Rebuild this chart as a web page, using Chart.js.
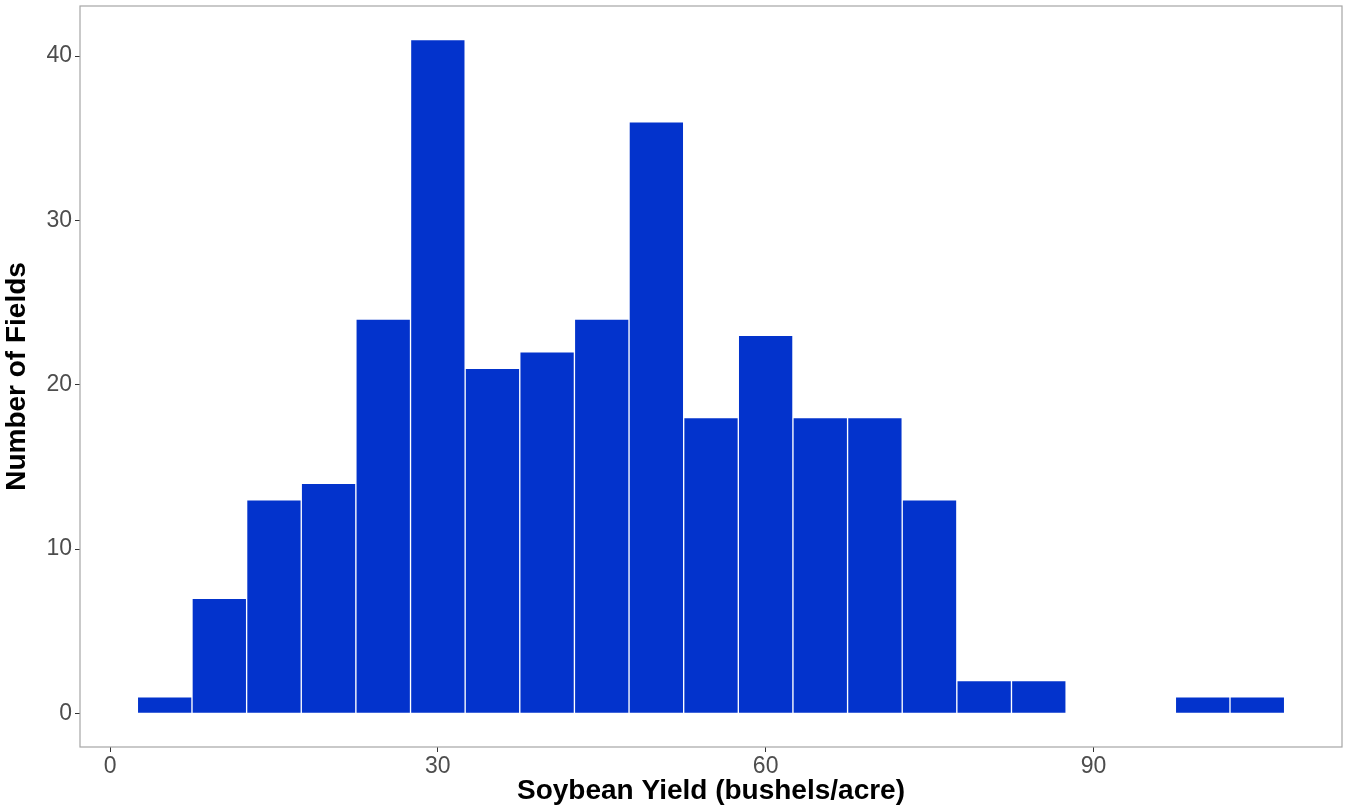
<!DOCTYPE html>
<html>
<head>
<meta charset="utf-8">
<script src="https://cdn.jsdelivr.net/npm/chart.js@4/dist/chart.umd.min.js"></script>
<style>
  html, body { margin: 0; padding: 0; background: #fff; }
  #wrap { width: 1345px; height: 808px; }
</style>
</head>
<body>
<div id="wrap"><canvas id="chart"></canvas></div>
<script>
// bin centres (bushels/acre), width 5
var binCenters = [5, 10, 15, 20, 25, 30, 35, 40, 45, 50, 55, 60, 65, 70, 75, 80, 85, 90, 95, 100, 105];
var fieldCounts = [1, 7, 13, 14, 24, 41, 21, 22, 24, 36, 18, 23, 18, 18, 13, 2, 2, 0, 0, 1, 1];
var xTicks = [0, 30, 60, 90];
var yTicks = [0, 10, 20, 30, 40];

var ctx = document.getElementById("chart");

var points = [];
for (var i = 0; i < binCenters.length; i++) {
	points.push({x: binCenters[i], y: fieldCounts[i]});
}

// panel border all round
var panelBorder = {
	id: 'panelBorder',
	afterDraw: function(chart) {
		var a = chart.chartArea;
		var c = chart.ctx;
		c.save();
		c.strokeStyle = '#a6a6a6';
		c.lineWidth = 1.2;
		c.strokeRect(a.left, a.top, a.right - a.left, a.bottom - a.top);
		c.restore();
	}
};

var tickFont = {family: "'Liberation Sans', Arial, sans-serif", size: 23};
var titleFont = {family: "'Liberation Sans', Arial, sans-serif", size: 28, weight: 'bold'};

var myChart = new Chart(ctx, {
	type: 'bar',
	data: {
		datasets: [{
			data: points,
			backgroundColor: '#0333CC',
			borderColor: '#ffffff',
			borderWidth: 1,
			barPercentage: 1,
			categoryPercentage: 1
		}]
	},
	options: {
		responsive: true,
		maintainAspectRatio: false,
		animation: false,
		layout: {padding: {top: 6, right: 3, left: 0, bottom: 0}},
		plugins: {legend: {display: false}, tooltip: {enabled: false}},
		scales: {
			x: {
				type: 'linear',
				min: -2.75,
				max: 112.75,
				offset: false,
				afterBuildTicks: function(scale) {
					scale.ticks = xTicks.map(function(v) { return {value: v}; });
				},
				afterFit: function(scale) {
					scale.height = 61;
					scale.paddingLeft = 0;
					scale.paddingRight = 0;
				},
				grid: {display: true, offset: false, drawOnChartArea: false, drawTicks: true, tickLength: 5, color: '#333333', lineWidth: 1},
				border: {display: false},
				ticks: {font: tickFont, color: '#4d4d4d', padding: 1, maxRotation: 0},
				title: {display: true, text: 'Soybean Yield (bushels/acre)', font: titleFont, color: '#000', padding: {top: 0, bottom: 0}}
			},
			y: {
				min: -2.05,
				max: 43.05,
				afterBuildTicks: function(scale) {
					scale.ticks = yTicks.map(function(v) { return {value: v}; });
				},
				afterFit: function(scale) {
					scale.width = 80;
					scale.paddingTop = 0;
					scale.paddingBottom = 0;
				},
				grid: {display: true, offset: false, drawOnChartArea: false, drawTicks: true, tickLength: 5, color: '#333333', lineWidth: 1},
				border: {display: false},
				ticks: {font: tickFont, color: '#4d4d4d', padding: 3},
				title: {display: true, text: 'Number of Fields', font: titleFont, color: '#000', padding: {top: 0, bottom: 4}}
			}
		}
	},
	plugins: [panelBorder]
});
</script>
</body>
</html>
